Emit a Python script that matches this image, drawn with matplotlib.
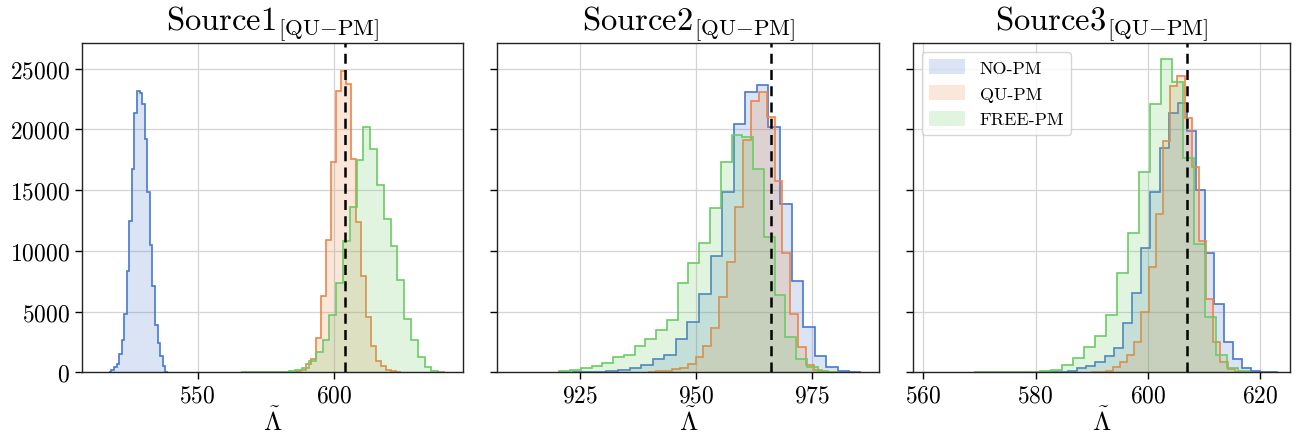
import numpy as np
import matplotlib
matplotlib.use("Agg")
import matplotlib.pyplot as plt
from matplotlib.patches import Patch

plt.rcParams['font.family'] = 'serif'
plt.rcParams['font.serif'] = ['cmr10', 'DejaVu Serif']
plt.rcParams['mathtext.fontset'] = 'cm'
plt.rcParams['axes.formatter.use_mathtext'] = True

labels = ["NO-PM", "QU-PM", "FREE-PM"]
colors = ["#4878d0", "#ee854a", "#6acc64"]
titles = ["Source1", "Source2", "Source3"]
injected = [604.0, 966.0, 607.0]
xlims = [(507.4, 647.5), (907.2, 989.4), (558.1, 625.3)]
xticks = [[550, 600], [925, 950, 975], [560, 580, 600, 620]]

# ---- Source 1 ----
s1_no_start, s1_no_width = 517.4, 0.94
s1_no = [50, 220, 410, 685, 1480, 2660, 4770, 8330, 12420, 16720, 21300, 23160,
         23000, 22120, 19240, 14800, 10500, 7130, 3890, 2385, 1370, 550, 55]
s1_qu_start, s1_qu_width = 586.0, 1.84
s1_qu = [80, 190, 685, 1100, 2800, 6300, 10880, 17320, 23160, 24800, 23710,
         17540, 12340, 7890, 4520, 2140, 955, 490, 190, 100, 50]
s1_free_start, s1_free_width = 565.9, 2.5
s1_free = [5, 8, 10, 15, 20, 40, 60, 110, 190, 380, 900, 1700, 2660, 4715, 7350,
           10830, 13570, 17460, 20150, 18400, 15400, 12610, 10360, 7590, 4380,
           2650, 1230, 470, 140, 50]

# ---- Source 2 ----
s2_no_start, s2_no_width = 923.2, 2.49
s2_no = [10, 25, 55, 110, 220, 360, 600, 1100, 1430, 2740, 4110, 6440, 9590,
         14800, 20420, 23030, 23680, 20200, 13840, 7480, 3700, 1370, 410, 110, 30]
s2_qu_start, s2_qu_width = 939.67, 1.70
s2_qu = [30, 80, 140, 300, 360, 685, 1230, 2190, 3620, 6170, 9100, 13570, 19130,
         22290, 23080, 21050, 15710, 9790, 4800, 2110, 600, 190, 55]
s2_free_start, s2_free_width = 920.55, 2.316
s2_free = [80, 220, 330, 550, 770, 1230, 1430, 2190, 2740, 3480, 4300, 7370, 8990,
           10630, 13490, 17270, 19520, 19380, 16770, 11100, 6360, 2880, 1100,
           470, 140, 30]

# ---- Source 3 ----
s3_no_start, s3_no_width = 580.87, 1.63
s3_no = [20, 25, 55, 140, 330, 490, 820, 1320, 1970, 4060, 6520, 10220, 14800,
         18500, 21380, 22200, 19870, 15020, 9810, 5620, 2520, 1100, 330, 140, 55, 20]
s3_qu_start, s3_qu_width = 589.91, 1.277
s3_qu = [20, 55, 140, 410, 820, 1430, 2520, 4930, 8630, 13020, 19050, 23570,
         24400, 20890, 16860, 10770, 6030, 2520, 820, 275, 55]
s3_free_start, s3_free_width = 569.02, 1.96
s3_free = [5, 10, 15, 20, 30, 55, 110, 220, 600, 1150, 2060, 2960, 4715, 8170,
           11460, 16500, 22070, 25820, 23900, 17600, 10550, 4520, 1430, 360, 80]

panels = [
    [(s1_no_start, s1_no_width, s1_no), (s1_qu_start, s1_qu_width, s1_qu),
     (s1_free_start, s1_free_width, s1_free)],
    [(s2_no_start, s2_no_width, s2_no), (s2_qu_start, s2_qu_width, s2_qu),
     (s2_free_start, s2_free_width, s2_free)],
    [(s3_no_start, s3_no_width, s3_no), (s3_qu_start, s3_qu_width, s3_qu),
     (s3_free_start, s3_free_width, s3_free)],
]

fig = plt.figure(figsize=(12.97, 4.35), dpi=100)
W, H = 1297.0, 435.0
lefts = [81.7, 497.3, 912.7]
rights = [463.0, 879.3, 1290.0]
top_px, bot_px = 44.0, 373.3
axes = []
for i in range(3):
    ax = fig.add_axes([lefts[i] / W, 1 - bot_px / H, (rights[i] - lefts[i]) / W,
                       (bot_px - top_px) / H])
    axes.append(ax)

for i, ax in enumerate(axes):
    ax.set_axisbelow(True)
    ax.grid(True, color='#d4d4d4', lw=0.9)
    for (start, width, counts), c in zip(panels[i], colors):
        counts = np.asarray(counts, dtype=float)
        edges = start + width * np.arange(len(counts) + 1)
        ax.stairs(counts, edges, baseline=0, fill=True, color=c, alpha=0.2, lw=0)
        ax.stairs(counts, edges, baseline=0, fill=False, color=c, lw=1.2)
    ax.axvline(injected[i], color='black', ls=(0, (4, 2.5)), lw=1.8)
    ax.set_xlim(*xlims[i])
    ax.set_ylim(0, 27100)
    ax.set_xticks(xticks[i])
    ax.set_yticks([0, 5000, 10000, 15000, 20000, 25000])
    ax.tick_params(axis='both', labelsize=17, length=5, width=1, direction='out')
    if i > 0:
        ax.tick_params(axis='y', labelleft=False)
    else:
        ax.set_yticklabels(['$%d$' % v for v in [0, 5000, 10000, 15000, 20000, 25000]])
    ax.set_xticklabels(['$%d$' % v for v in xticks[i]])
    for sp in ax.spines.values():
        sp.set_color('#222222')
        sp.set_linewidth(1.0)
    ax.set_title(r'$\mathrm{%s}_{[\mathrm{QU{-}PM}]}$' % titles[i], fontsize=23.5, pad=4)
    ax.set_xlabel(r'$\tilde{\Lambda}$', fontsize=19, labelpad=0)

handles = [Patch(facecolor=c, alpha=0.2, edgecolor='none') for c in colors]
leg = axes[2].legend(handles, labels, loc='upper left', fontsize=13,
                     framealpha=0.8, fancybox=True, borderaxespad=0.5,
                     handlelength=2.0, handleheight=0.9)

fig.savefig('out.png', dpi=100)
